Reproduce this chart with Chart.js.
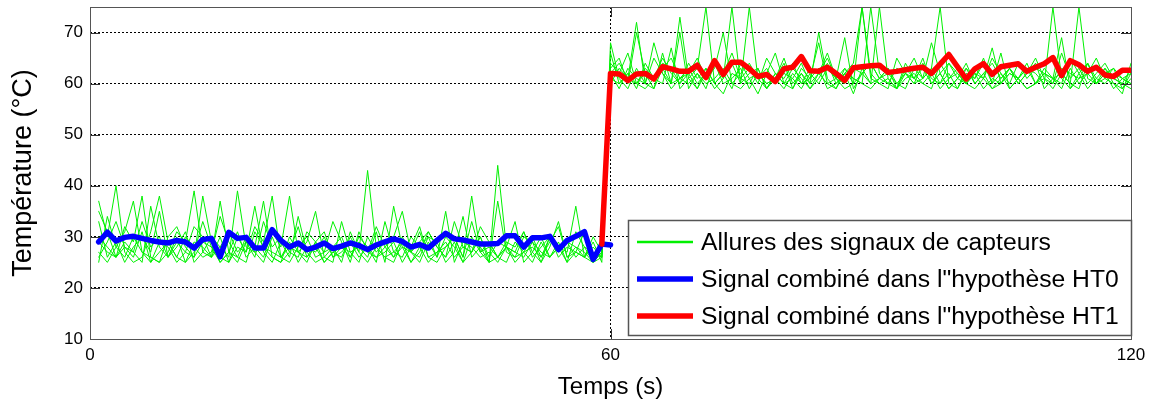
<!DOCTYPE html>
<html>
<head>
<meta charset="utf-8">
<script src="https://cdn.jsdelivr.net/npm/chart.js@4"></script>
<style>
  html, body { margin: 0; padding: 0; background: #fff; }
</style>
</head>
<body>
<canvas id="tempChart" width="1152" height="403"></canvas>
<script>
// signaux bruts des capteurs, un point par seconde (t = 1 .. 120)
const capteur1 = [
  37,30,40,27,25,26,31,38,29,26, 25,27,33,28,26,25,30,27,36,27, 25,29,26,34,27,25,26,28,25,31,
  27,43,28,26,25,29,27,31,26,25, 28,30,26,33,27,25,26,29,28,31, 27,25,30,26,28,27,26,29,25,
  66,60,62,59,64,61,60,67,59,61, 63,75,60,62,59,64,61,58,62,66, 60,59,63,61,68,60,59,62,64,75,
  61,60,59,65,62,60,61,63,75,60, 59,62,61,64,60,66,59,61,63,62, 60,75,61,59,62,64,60,61,63,59, 62
];
const capteur2 = [
  25,34,28,31,37,27,26,25,30,32, 28,26,38,29,25,27,31,26,28,37, 26,25,30,27,29,35,26,25,33,27,
  28,26,31,25,36,28,27,26,30,29, 25,27,34,26,28,25,37,27,26,30, 29,25,28,33,26,27,31,26,28,
  62,64,61,72,60,59,63,65,61,60, 62,59,64,61,75,60,62,63,59,61, 65,60,62,59,61,64,60,62,58,63,
  60,75,61,59,62,60,64,61,60,62, 59,63,61,65,60,62,59,61,64,60, 62,61,59,63,60,62,65,61,60,58, 64
];
const capteur3 = [
  29,27,26,32,29,38,26,25,27,31, 29,39,27,26,30,25,28,27,32,29, 38,26,25,28,30,26,27,33,29,25,
  31,27,26,28,30,35,27,25,29,26, 30,28,25,27,32,29,26,28,33,25, 27,30,26,29,25,31,28,27,26,
  68,61,59,63,60,65,62,60,73,61, 59,62,64,60,61,63,59,62,60,61, 64,59,62,60,70,61,59,63,61,60,
  75,62,60,59,64,61,63,60,62,59, 61,64,60,62,59,61,63,60,62,64, 59,61,60,65,62,59,61,63,60,59, 61
];
const capteur4 = [
  33,26,29,25,28,30,27,35,26,28, 31,25,27,30,28,26,39,28,27,25, 30,26,28,27,25,29,31,26,28,27,
  25,30,27,29,26,28,25,27,31,28, 26,29,25,30,27,28,26,25,29,27, 28,26,30,27,29,26,28,25,27,
  62,59,63,61,60,68,62,59,61,63, 60,62,59,61,64,60,75,61,59,62, 60,63,61,59,62,60,61,69,59,62,
  60,61,63,59,61,62,60,59,64,61, 62,60,59,61,67,60,62,61,59,60, 63,61,62,60,59,64,61,60,62,61, 60
];
const capteur5 = [
  26,29,33,28,26,31,25,27,29,26, 30,28,26,27,34,29,26,25,31,28, 27,26,29,25,28,27,30,26,27,29,
  26,28,25,33,27,26,30,28,25,27, 29,26,28,27,30,25,44,28,26,27, 25,29,26,28,27,36,26,25,27,
  60,63,61,60,62,59,66,60,61,62, 59,63,60,58,62,61,60,63,59,62, 60,61,59,62,60,63,61,59,60,75,
  62,60,61,59,63,61,60,62,59,61, 63,60,62,61,59,60,62,61,63,60, 61,59,62,60,75,61,60,62,59,61, 60
];
const capteur6 = [
  27,25,28,26,30,27,25,29,28,25, 27,26,29,28,25,27,26,30,27,28, 26,25,27,32,26,28,25,27,26,30,
  27,25,28,26,27,29,25,28,30,26, 35,25,29,28,26,27,25,28,27,26, 29,27,26,28,25,27,26,28,26,
  61,60,62,60,59,61,63,60,70,59, 62,60,61,63,60,59,61,62,60,61, 59,62,60,61,63,59,60,62,61,60,
  59,61,62,60,59,63,61,68,62,59, 61,60,62,59,61,60,63,61,59,60, 62,61,69,59,61,62,60,63,61,60, 59
];
const capteur7 = [
  30,28,26,29,27,33,28,30,26,29, 27,32,30,26,28,31,27,29,26,33, 28,30,27,26,31,29,27,28,30,26,
  29,27,32,28,26,30,27,29,31,28, 26,33,28,27,30,26,29,28,27,31, 26,28,30,27,29,28,26,30,27,
  64,62,66,60,63,61,65,62,60,64, 61,63,60,62,66,61,63,60,65,62, 61,64,60,63,62,66,61,60,63,62,
  64,61,63,60,62,65,61,63,60,64, 62,60,63,61,65,62,60,64,61,63, 62,60,66,61,63,60,62,64,61,60, 63
];
const capteur8 = [
  35,31,26,28,27,25,36,28,26,30, 25,29,28,26,37,27,25,29,28,26, 31,28,38,27,26,29,25,27,28,26,
  30,28,26,27,29,25,28,32,26,27, 28,30,26,38,27,29,26,28,25,27, 30,26,29,32,26,28,27,25,26,
  63,65,60,70,62,61,64,63,60,62, 65,61,63,70,60,62,64,61,63,60, 62,61,64,60,62,65,61,63,60,62,
  64,61,60,63,62,61,65,60,62,64, 61,63,60,62,64,61,63,60,62,65, 61,60,63,62,61,64,60,62,63,61, 62
];

// signal combiné, hypothèse HT0 : t = 1 .. 60
const combineHT0 = [
  29.0,30.9,29.2,29.9,30.1,29.7,29.3,29.0,28.8,29.3, 29.0,27.8,29.5,29.7,26.1,30.9,29.7,29.9,27.8,27.8,
  31.4,29.3,28.0,28.8,27.5,28.0,28.8,27.7,28.2,28.8, 28.3,27.5,28.4,29.0,29.6,29.1,28.0,28.5,27.8,29.3,
  30.7,29.6,29.4,29.0,28.6,28.6,28.7,30.2,30.2,28.0, 29.8,29.8,30.1,27.5,29.3,30.1,31.0,25.6,28.6,28.4
];
const debutHT0 = 1;

// signal combiné, hypothèse HT1 : t = 59 .. 120
const combineHT1 = [
  28.6,62.0,61.9,60.6,61.9,62.0,60.9,63.3,62.9,62.4, 62.4,63.6,61.2,64.5,61.8,64.2,64.2,62.9,61.4,61.8,
  60.4,62.9,63.2,65.3,62.5,62.4,63.2,62.0,60.6,63.1, 63.3,63.5,63.6,62.2,62.4,62.7,63.0,63.2,62.0,63.8,
  65.7,63.3,60.9,62.9,63.9,61.8,63.3,63.6,63.9,62.4, 63.2,63.9,65.1,61.6,64.5,63.7,62.4,63.2,61.7,61.4,
  62.6,62.6
];
const debutHT1 = 59;

const xTicks = [0, 60, 120];
const yTicks = [10, 20, 30, 40, 50, 60, 70];

const legendLabels = [
  'Allures des signaux de capteurs',
  'Signal combiné dans l"hypothèse HT0',
  'Signal combiné dans l"hypothèse HT1'
];

const FONT = "'Liberation Sans', Arial, sans-serif";
const GREEN = '#00f000';
const BLUE = '#0000ff';
const RED = '#ff0000';

const toPoints = (arr, start) => arr.map((v, i) => ({ x: start + i, y: v }));

const capteurs = [capteur1, capteur2, capteur3, capteur4, capteur5, capteur6, capteur7, capteur8];

const datasets = [
  { label: legendLabels[2], data: toPoints(combineHT1, debutHT1), borderColor: RED, borderWidth: 5.5 },
  { label: legendLabels[1], data: toPoints(combineHT0, debutHT0), borderColor: BLUE, borderWidth: 5.5 },
  ...capteurs.map(c => ({ label: legendLabels[0], data: toPoints(c, 1), borderColor: GREEN, borderWidth: 1 }))
];

// cadre, petites graduations intérieures et légende encadrée
const matlabFrame = {
  id: 'matlabFrame',
  afterDatasetsDraw(chart) {
    const { ctx, chartArea: a, scales } = chart;
    ctx.save();
    ctx.strokeStyle = '#333';
    ctx.lineWidth = 1;
    ctx.setLineDash([]);
    ctx.beginPath();
    yTicks.forEach(v => {
      const y = Math.round(scales.y.getPixelForValue(v)) + 0.5;
      ctx.moveTo(a.left, y); ctx.lineTo(a.left + 10, y);
      ctx.moveTo(a.right - 10, y); ctx.lineTo(a.right, y);
    });
    xTicks.forEach(v => {
      const x = Math.round(scales.x.getPixelForValue(v)) + 0.5;
      ctx.moveTo(x, a.top); ctx.lineTo(x, a.top + 10);
      ctx.moveTo(x, a.bottom - 10); ctx.lineTo(x, a.bottom);
    });
    ctx.stroke();
    ctx.strokeStyle = '#555';
    ctx.strokeRect(Math.round(a.left) + 0.5, Math.round(a.top) + 0.5,
      Math.round(a.right - a.left), Math.round(a.bottom - a.top));

    // légende
    const bx = Math.round(a.right) - 503, by = Math.round(a.bottom) - 119;
    const bw = 503, bh = 115;
    ctx.fillStyle = '#fff';
    ctx.fillRect(bx, by, bw, bh);
    ctx.strokeStyle = '#555';
    ctx.lineWidth = 1.5;
    ctx.strokeRect(bx + 0.5, by + 0.5, bw, bh);
    const rows = [
      { text: legendLabels[0], color: GREEN, w: 2.5 },
      { text: legendLabels[1], color: BLUE, w: 5.5 },
      { text: legendLabels[2], color: RED, w: 5.5 }
    ];
    ctx.font = '24.7px ' + FONT;
    ctx.textBaseline = 'middle';
    ctx.textAlign = 'left';
    rows.forEach((r, i) => {
      const y = by + 22 + i * 37;
      ctx.strokeStyle = r.color;
      ctx.lineWidth = r.w;
      ctx.beginPath();
      ctx.moveTo(bx + 9, y); ctx.lineTo(bx + 65, y);
      ctx.stroke();
      ctx.fillStyle = '#000';
      ctx.fillText(r.text, bx + 73, y + 1);
    });
    ctx.restore();
  }
};

new Chart(document.getElementById('tempChart').getContext('2d'), {
  type: 'line',
  data: { datasets },
  options: {
    responsive: false,
    animation: false,
    layout: { padding: { top: 7, right: 21, left: 0, bottom: 0 } },
    elements: {
      point: { radius: 0 },
      line: { tension: 0, borderJoinStyle: 'round', borderCapStyle: 'round' }
    },
    plugins: { legend: { display: false }, tooltip: { enabled: false } },
    scales: {
      x: {
        type: 'linear',
        min: 0,
        max: 120,
        afterBuildTicks: s => { s.ticks = xTicks.map(v => ({ value: v })); },
        ticks: { font: { family: FONT, size: 17 }, color: '#000', padding: 6, maxRotation: 0 },
        grid: {
          drawTicks: false,
          color: c => (c.tick && c.tick.value === 60) ? '#000' : 'rgba(0,0,0,0)'
        },
        border: { display: false, dash: [2, 2] },
        title: { display: true, text: 'Temps (s)', font: { family: FONT, size: 24 }, color: '#000', padding: { top: 0, bottom: 1 } },
        afterFit: s => { s.height = 64; s.paddingLeft = 0; s.paddingRight = 0; }
      },
      y: {
        min: 10,
        max: 75,
        afterBuildTicks: s => { s.ticks = yTicks.map(v => ({ value: v })); },
        ticks: { font: { family: FONT, size: 17 }, color: '#000', padding: 7 },
        grid: {
          drawTicks: false,
          color: c => (c.tick && c.tick.value === 10) ? 'rgba(0,0,0,0)' : '#000'
        },
        border: { display: false, dash: [2, 2] },
        title: { display: true, text: 'Température (°C)', font: { family: FONT, size: 27 }, color: '#000', padding: { top: 7, bottom: 0 } },
        afterFit: s => { s.width = 90; s.paddingTop = 0; s.paddingBottom = 0; }
      }
    }
  },
  plugins: [matlabFrame]
});
</script>
</body>
</html>
